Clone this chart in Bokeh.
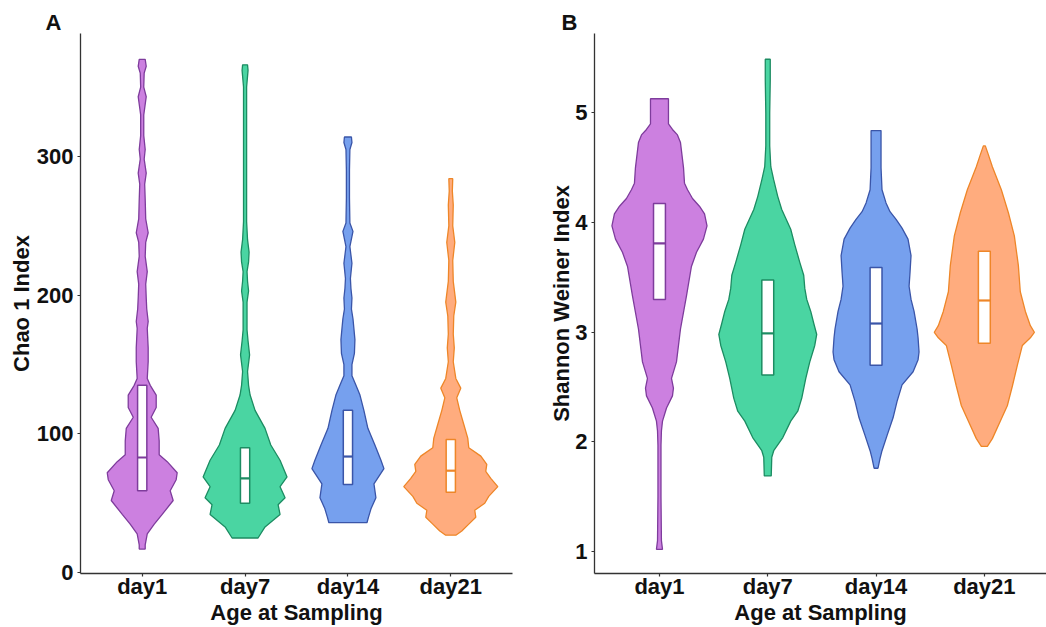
from bokeh.plotting import figure
from bokeh.layouts import row
from bokeh.models import Range1d, FixedTicker
from bokeh.embed import file_html
from bokeh.resources import INLINE

categories = ["day1", "day7", "day14", "day21"]
fill_colors = ["#CC80E0", "#4AD5A2", "#76A0EE", "#FFAC7E"]
line_colors = ["#7E3C9C", "#1C8C62", "#3A55A8", "#EE8628"]

# ---------------- Panel A: Chao 1 Index ----------------
a_day1_vals = [17, 20, 28, 35, 42, 52, 59, 67, 72, 80, 85, 95, 104, 112, 119, 128, 135, 140, 152, 162,
               176, 181, 190, 198, 208, 217, 228, 238, 245, 255, 269, 280, 288, 298, 305, 315, 330, 343,
               350, 360, 365, 370]
a_day1_hw = [0.029, 0.029, 0.049, 0.117, 0.194, 0.301, 0.272, 0.330, 0.340, 0.243, 0.165, 0.165, 0.155,
             0.087, 0.136, 0.136, 0.078, 0.049, 0.058, 0.058, 0.049, 0.058, 0.044, 0.039, 0.034, 0.049,
             0.029, 0.034, 0.058, 0.034, 0.029, 0.024, 0.039, 0.019, 0.029, 0.015, 0.015, 0.039, 0.015,
             0.019, 0.039, 0.029]
a_day7_vals = [25, 33, 42, 49, 54, 62, 69, 81, 92, 104, 117, 128, 135, 145, 157, 167, 175, 185, 195, 203,
               210, 217, 224, 231, 240, 253, 300, 350, 362, 366]
a_day7_hw = [0.126, 0.194, 0.340, 0.321, 0.389, 0.340, 0.408, 0.340, 0.250, 0.194, 0.097, 0.049, 0.034,
             0.024, 0.044, 0.029, 0.019, 0.019, 0.019, 0.034, 0.024, 0.019, 0.034, 0.039, 0.024, 0.015,
             0.015, 0.015, 0.029, 0.024]
a_day14_vals = [36, 40, 46, 54, 64, 75, 81, 92, 104, 117, 128, 135, 142, 150, 158, 168, 176, 183, 190, 198,
                205, 212, 223, 235, 246, 252, 270, 290, 305, 310, 314]
a_day14_hw = [0.185, 0.200, 0.224, 0.272, 0.253, 0.350, 0.321, 0.262, 0.194, 0.155, 0.117, 0.078, 0.039,
              0.039, 0.063, 0.068, 0.058, 0.049, 0.034, 0.039, 0.029, 0.024, 0.039, 0.019, 0.049, 0.019,
              0.015, 0.015, 0.019, 0.039, 0.034]
a_day21_vals = [27, 30, 35, 40, 45, 50, 55, 62, 68, 73, 78, 84, 90, 97, 107, 117, 126, 133, 140, 152, 162,
                172, 185, 195, 210, 225, 238, 250, 265, 275, 284]
a_day21_hw = [0.049, 0.107, 0.175, 0.243, 0.233, 0.330, 0.369, 0.457, 0.389, 0.340, 0.350, 0.292, 0.175,
              0.165, 0.126, 0.087, 0.058, 0.097, 0.049, 0.024, 0.034, 0.024, 0.029, 0.049, 0.024, 0.019,
              0.039, 0.019, 0.024, 0.015, 0.019]
a_box_lower = [59, 50, 63.5, 58]
a_box_median = [83, 68, 83.7, 73.5]
a_box_upper = [135, 90, 117, 96]
a_ticks = [0, 100, 200, 300]

# ---------------- Panel B: Shannon Weiner Index ----------------
b_day1_vals = [1.02, 1.1, 1.5, 1.97, 2.1, 2.19, 2.31, 2.42, 2.49, 2.58, 2.73, 3.03, 3.33, 3.6, 3.73, 3.85,
               3.97, 4.08, 4.15, 4.22, 4.3, 4.36, 4.5, 4.73, 4.8, 4.85, 4.9, 5.0, 5.13]
b_day1_hw = [0.028, 0.018, 0.014, 0.014, 0.018, 0.028, 0.065, 0.120, 0.129, 0.111, 0.157, 0.194, 0.249,
             0.295, 0.342, 0.406, 0.439, 0.416, 0.369, 0.305, 0.259, 0.231, 0.222, 0.194, 0.166, 0.120,
             0.083, 0.083, 0.083]
b_day7_vals = [1.69, 1.86, 1.92, 2.04, 2.19, 2.28, 2.40, 2.58, 2.73, 2.88, 2.98, 3.08, 3.19, 3.30, 3.40,
               3.52, 3.64, 3.80, 3.94, 4.12, 4.24, 4.39, 4.51, 4.7, 5.0, 5.3, 5.49]
b_day7_hw = [0.032, 0.037, 0.055, 0.139, 0.212, 0.277, 0.314, 0.351, 0.388, 0.434, 0.452, 0.425, 0.397,
             0.360, 0.342, 0.332, 0.295, 0.249, 0.212, 0.129, 0.092, 0.055, 0.028, 0.018, 0.018, 0.023,
             0.023]
b_day14_vals = [1.76, 1.85, 1.92, 2.06, 2.22, 2.37, 2.52, 2.64, 2.75, 2.82, 2.95, 3.03, 3.19, 3.30, 3.42,
                3.55, 3.70, 3.85, 3.95, 4.03, 4.10, 4.18, 4.30, 4.50, 4.70, 4.84]
b_day14_hw = [0.018, 0.037, 0.055, 0.102, 0.157, 0.194, 0.240, 0.342, 0.388, 0.397, 0.388, 0.379, 0.351,
              0.323, 0.305, 0.314, 0.323, 0.295, 0.240, 0.185, 0.129, 0.092, 0.055, 0.046, 0.046, 0.046]
b_day21_vals = [1.96, 2.03, 2.19, 2.33, 2.51, 2.70, 2.88, 2.95, 3.00, 3.06, 3.19, 3.37, 3.61, 3.88, 4.09,
                4.30, 4.51, 4.62, 4.70]
b_day21_hw = [0.028, 0.074, 0.148, 0.212, 0.259, 0.305, 0.351, 0.425, 0.462, 0.425, 0.379, 0.332, 0.314,
              0.277, 0.222, 0.157, 0.074, 0.037, 0.009]
b_box_lower = [3.30, 2.61, 2.70, 2.90]
b_box_median = [3.81, 2.99, 3.08, 3.29]
b_box_upper = [4.175, 3.476, 3.59, 3.74]
b_ticks = [1, 2, 3, 4, 5]

FONT = "Liberation Sans"
TXT = "#111111"
AXC = "#333333"


def make_panel(vals_list, hw_list, lower, median, upper, y_start, y_end, x_end, ticks, ylabel,
               letter, letter_offset, width, left_border, right_border, box_w, ytitle_standoff):
    p = figure(width=width, height=627, x_range=Range1d(0.4, x_end), y_range=Range1d(y_start, y_end),
               output_backend="svg", toolbar_location=None,
               min_border_left=left_border, min_border_right=right_border,
               min_border_top=33, min_border_bottom=51)
    p.outline_line_color = None
    p.xgrid.visible = False
    p.ygrid.visible = False
    p.background_fill_color = "white"
    p.border_fill_color = "white"

    p.title.text = letter
    p.title.align = "left"
    p.title.offset = letter_offset
    p.title.standoff = -3
    p.title.text_font = FONT
    p.title.text_font_style = "bold"
    p.title.text_font_size = "22px"
    p.title.text_color = TXT

    for i, (v, h) in enumerate(zip(vals_list, hw_list)):
        c = i + 1
        xs = [c - w for w in h] + [c + w for w in reversed(h)]
        ys = list(v) + list(reversed(v))
        p.patch(xs, ys, fill_color=fill_colors[i], fill_alpha=1.0,
                line_color=line_colors[i], line_width=1.3)

    centers = [i + 1 for i in range(len(categories))]
    p.quad(left=[c - box_w / 2 for c in centers], right=[c + box_w / 2 for c in centers],
           bottom=lower, top=upper, fill_color="white", line_color=line_colors, line_width=1.5)
    p.segment(x0=[c - box_w / 2 for c in centers], x1=[c + box_w / 2 for c in centers],
              y0=median, y1=median, line_color=line_colors, line_width=2.2)

    p.xaxis.ticker = FixedTicker(ticks=centers)
    p.xaxis.major_label_overrides = {c: name for c, name in zip(centers, categories)}
    p.yaxis.ticker = FixedTicker(ticks=ticks)
    p.xaxis.axis_label = "Age at Sampling"
    p.yaxis.axis_label = ylabel

    for ax in (p.xaxis, p.yaxis):
        ax.axis_line_color = AXC
        ax.axis_line_width = 1.3
        ax.major_tick_line_color = AXC
        ax.major_tick_line_width = 1.2
        ax.major_tick_in = 0
        ax.major_tick_out = 3
        ax.minor_tick_line_color = None
        ax.major_label_text_font = FONT
        ax.major_label_text_font_style = "bold"
        ax.major_label_text_font_size = "22px"
        ax.major_label_text_color = TXT
        ax.axis_label_text_font = FONT
        ax.axis_label_text_font_style = "bold"
        ax.axis_label_text_font_size = "22px"
        ax.axis_label_text_color = TXT
    p.xaxis.major_label_standoff = -3
    p.xaxis.axis_label_standoff = -2
    p.yaxis.major_label_standoff = 4
    p.yaxis.axis_label_standoff = ytitle_standoff
    return p


pa = make_panel([a_day1_vals, a_day7_vals, a_day14_vals, a_day21_vals],
                [a_day1_hw, a_day7_hw, a_day14_hw, a_day21_hw],
                a_box_lower, a_box_median, a_box_upper, -0.6, 388.6, 4.6, a_ticks, "Chao 1 Index",
                "A", -35, 520, 80, 8, 0.09, 0)
pb = make_panel([b_day1_vals, b_day7_vals, b_day14_vals, b_day21_vals],
                [b_day1_hw, b_day7_hw, b_day14_hw, b_day21_hw],
                b_box_lower, b_box_median, b_box_upper, 0.80, 5.725, 4.574, b_ticks, "Shannon Weiner Index",
                "B", -33, 526, 74, 0, 0.11, -2)

layout = row(pa, pb)
open("out.html", "w").write(file_html(layout, INLINE))
